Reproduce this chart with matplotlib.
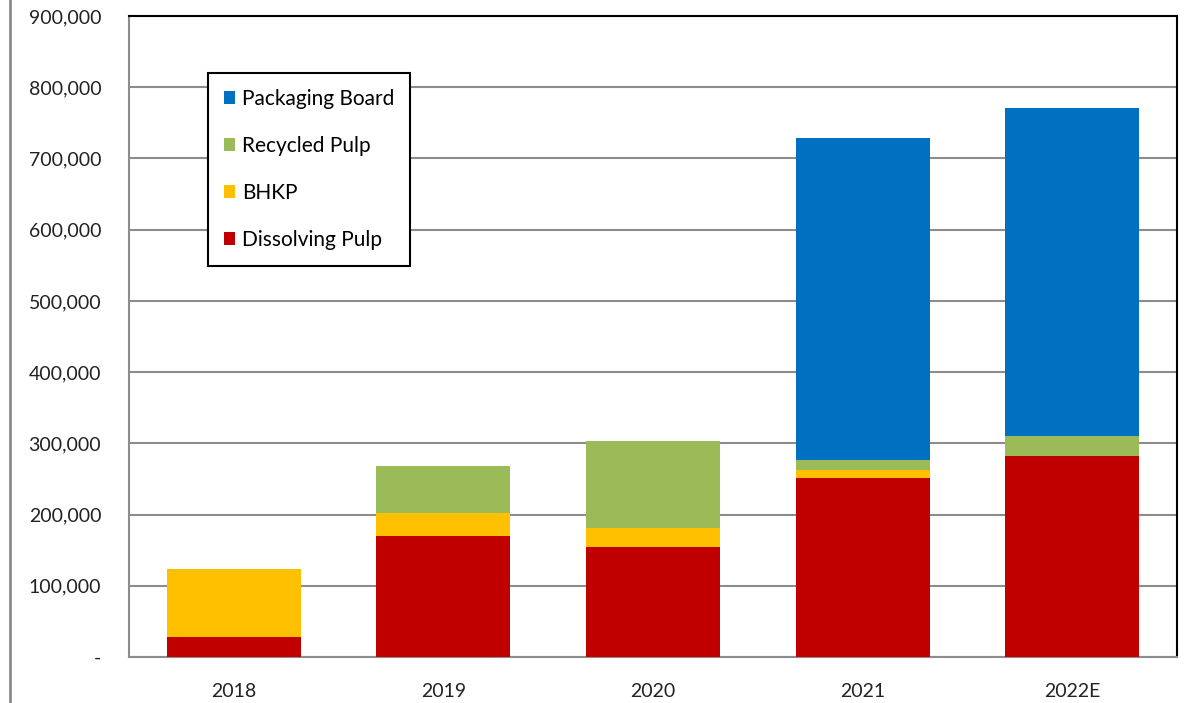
import numpy as np
import matplotlib
matplotlib.use('Agg')
from matplotlib import pyplot as plt
from matplotlib.lines import Line2D
from matplotlib.ticker import FuncFormatter

years = ['2018', '2019', '2020', '2021', '2022E']
dissolving = [28000, 170000, 154000, 251000, 282000]
bhkp = [95000, 32000, 27000, 12000, 0]
recycled = [0, 66000, 122000, 14000, 29000]
packaging = [0, 0, 0, 452000, 460000]

names = ['Dissolving Pulp', 'BHKP', 'Recycled Pulp', 'Packaging Board']
colors = ['#C00000', '#FFC000', '#9BBB59', '#0070C0']
series = [dissolving, bhkp, recycled, packaging]

plt.rcParams['font.family'] = ['Lato', 'DejaVu Sans']

fig = plt.figure(figsize=(11.89, 7.03), dpi=100)
ax = fig.add_axes([0.1085, 0.0654, 0.8814, 0.9118])

x = np.arange(len(years))
bottom = np.zeros(len(years))
for vals, name, c in zip(series, names, colors):
    ax.bar(x, vals, 0.64, bottom=bottom, color=c, label=name, zorder=3)
    bottom += np.array(vals)

ax.set_xlim(-0.5, len(years) - 0.5)
ax.set_ylim(0, 900000)
ax.set_yticks(np.arange(0, 900001, 100000))
ax.yaxis.set_major_formatter(FuncFormatter(lambda v, p: '-' if v == 0 else '{:,.0f}'.format(v)))
ax.set_xticks(x)
ax.set_xticklabels(years)
ax.tick_params(axis='both', length=0, labelsize=14, colors='#222222')
ax.tick_params(axis='y', pad=20)
ax.tick_params(axis='x', pad=19)
ax.grid(axis='y', color='#8c8c8c', linewidth=1.5, zorder=0)

ax.spines['left'].set_color('#8c8c8c')
ax.spines['bottom'].set_color('#8c8c8c')
ax.spines['left'].set_linewidth(1.5)
ax.spines['bottom'].set_linewidth(1.5)
ax.spines['top'].set_color('black')
ax.spines['right'].set_color('black')
ax.spines['top'].set_linewidth(1.5)
ax.spines['right'].set_linewidth(1.5)

h, l = ax.get_legend_handles_labels()
leg = ax.legend(h[::-1], l[::-1], loc='upper left',
                bbox_to_anchor=(208 / 1189, 1 - 73 / 703), bbox_transform=fig.transFigure,
                borderaxespad=0, fontsize=15, handlelength=0.55, handleheight=0.55,
                handletextpad=0.35, labelspacing=1.3, borderpad=0.75, fancybox=False,
                framealpha=1, edgecolor='black')
leg.get_frame().set_linewidth(1.5)

fig.add_artist(Line2D([10 / 1189, 10 / 1189], [0, 1], color='#8c8c8c', linewidth=2,
                      transform=fig.transFigure))

fig.savefig('out.png', dpi=100)
